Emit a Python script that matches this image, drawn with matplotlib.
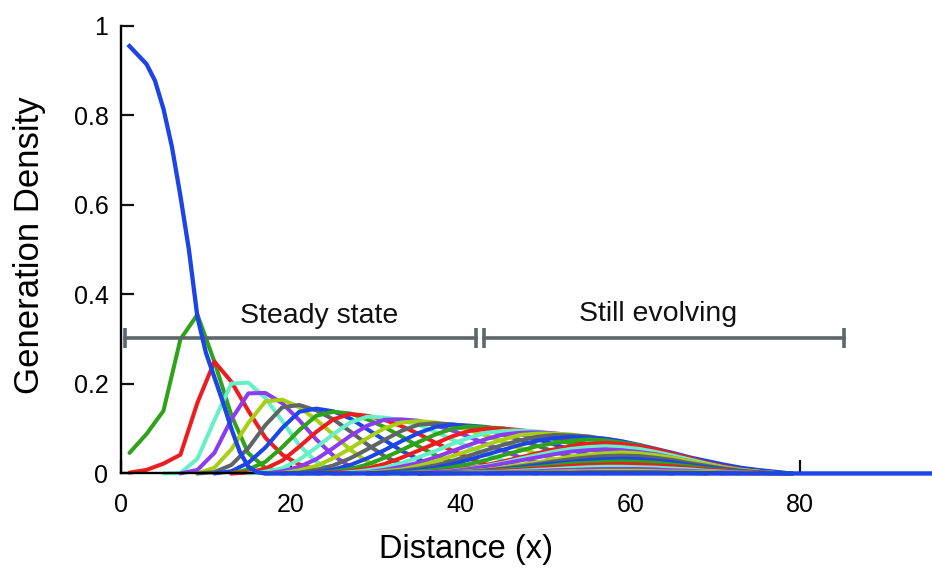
import numpy as np
import matplotlib
matplotlib.use("Agg")
import matplotlib.pyplot as plt

plt.rcParams['font.family'] = ['Liberation Sans', 'DejaVu Sans']

# generation 0: the initial density (blue), sampled more finely near the origin
gen0_x = [1, 3, 4, 5, 6, 7, 8, 9, 10, 11, 12, 13, 14, 15, 16, 17, 96]
gen0_y = [0.955, 0.915, 0.878, 0.815, 0.73, 0.62, 0.50, 0.35, 0.27, 0.215,
          0.16, 0.10, 0.048, 0.015, 0.003, 0, 0]

# later generations: values on a step-2 grid, first value at gen_start[k]
grid_step = 2
gen_start = [1, 1, 5, 7, 9, 9, 11, 13, 13, 15, 17, 17, 19, 21, 21, 23, 25, 25,
             27, 29, 29, 31, 33, 33, 33, 35, 35, 35, 35, 35, 37, 37, 39, 43]
gen_density = [
    [0.046, 0.088, 0.140, 0.300, 0.355, 0.250, 0.130, 0.045, 0.013, 0.003, 0],
    [0.002, 0.008, 0.022, 0.042, 0.158, 0.250, 0.205, 0.140, 0.080, 0.042, 0.020, 0.009, 0.003, 0],
    [0, 0.001, 0.033, 0.119, 0.201, 0.203, 0.169, 0.117, 0.063, 0.026, 0.006, 0],
    [0, 0.008, 0.046, 0.121, 0.179, 0.180, 0.157, 0.119, 0.076, 0.040, 0.015, 0.001, 0],
    [0, 0.013, 0.054, 0.113, 0.161, 0.165, 0.148, 0.120, 0.087, 0.053, 0.027, 0.010, 0],
    [0, 0.003, 0.019, 0.057, 0.108, 0.148, 0.153, 0.141, 0.121, 0.094, 0.065, 0.039, 0.020, 0.007, 0],
    [0, 0.005, 0.024, 0.058, 0.102, 0.138, 0.145, 0.139, 0.123, 0.099, 0.075, 0.051, 0.032, 0.016,
     0.006, 0],
    [0, 0.009, 0.026, 0.059, 0.097, 0.129, 0.138, 0.134, 0.121, 0.104, 0.083, 0.061, 0.041, 0.025,
     0.013, 0.004, 0],
    [0, 0.002, 0.011, 0.029, 0.060, 0.093, 0.121, 0.133, 0.129, 0.120, 0.106, 0.089, 0.069, 0.051,
     0.034, 0.020, 0.011, 0.004, 0],
    [0, 0.004, 0.012, 0.031, 0.058, 0.088, 0.114, 0.127, 0.125, 0.119, 0.109, 0.093, 0.076, 0.059,
     0.043, 0.029, 0.017, 0.009, 0.003, 0],
    [0, 0.005, 0.015, 0.032, 0.057, 0.084, 0.107, 0.120, 0.121, 0.118, 0.108, 0.096, 0.082, 0.066,
     0.051, 0.036, 0.025, 0.015, 0.008, 0.003, 0],
    [0, 0.001, 0.007, 0.017, 0.034, 0.056, 0.079, 0.101, 0.114, 0.117, 0.114, 0.107, 0.097, 0.085,
     0.071, 0.057, 0.044, 0.032, 0.022, 0.013, 0.007, 0.003, 0],
    [0, 0.002, 0.008, 0.018, 0.034, 0.054, 0.075, 0.095, 0.109, 0.112, 0.110, 0.105, 0.097, 0.087,
     0.075, 0.062, 0.049, 0.038, 0.028, 0.018, 0.012, 0.006, 0.002, 0],
    [0, 0.003, 0.009, 0.019, 0.034, 0.052, 0.072, 0.090, 0.104, 0.109, 0.107, 0.104, 0.096, 0.088,
     0.077, 0.065, 0.053, 0.042, 0.031, 0.023, 0.014, 0.009, 0.004, 0.001, 0],
    [0, 0.001, 0.004, 0.010, 0.020, 0.035, 0.052, 0.070, 0.087, 0.100, 0.105, 0.103, 0.101, 0.094,
     0.088, 0.077, 0.067, 0.056, 0.045, 0.035, 0.026, 0.018, 0.012, 0.007, 0.003, 0],
    [0, 0.002, 0.005, 0.011, 0.021, 0.035, 0.051, 0.067, 0.083, 0.095, 0.100, 0.100, 0.097, 0.092,
     0.085, 0.075, 0.066, 0.055, 0.044, 0.035, 0.026, 0.018, 0.012, 0.007, 0.003, 0.001, 0],
    [0, 0.003, 0.007, 0.013, 0.023, 0.036, 0.050, 0.066, 0.080, 0.091, 0.095, 0.096, 0.094, 0.088,
     0.082, 0.074, 0.064, 0.055, 0.044, 0.034, 0.026, 0.018, 0.012, 0.007, 0.003, 0.001, 0],
    [0, 0.001, 0.003, 0.008, 0.015, 0.024, 0.036, 0.050, 0.064, 0.077, 0.087, 0.091, 0.092, 0.090,
     0.085, 0.080, 0.071, 0.062, 0.052, 0.042, 0.033, 0.025, 0.018, 0.012, 0.007, 0.003, 0.001, 0],
    [0, 0.002, 0.005, 0.009, 0.017, 0.027, 0.039, 0.051, 0.064, 0.076, 0.086, 0.089, 0.089, 0.087,
     0.082, 0.076, 0.067, 0.058, 0.048, 0.038, 0.029, 0.022, 0.015, 0.009, 0.005, 0.002, 0],
    [0, 0.003, 0.006, 0.011, 0.018, 0.028, 0.040, 0.052, 0.064, 0.074, 0.082, 0.086, 0.085, 0.083,
     0.077, 0.071, 0.062, 0.053, 0.042, 0.033, 0.025, 0.017, 0.011, 0.007, 0.003, 0],
    [0, 0.001, 0.004, 0.007, 0.013, 0.021, 0.031, 0.042, 0.053, 0.064, 0.073, 0.079, 0.082, 0.080,
     0.078, 0.072, 0.064, 0.055, 0.046, 0.036, 0.028, 0.020, 0.013, 0.008, 0.004, 0],
    [0, 0.002, 0.004, 0.008, 0.014, 0.021, 0.030, 0.041, 0.051, 0.061, 0.068, 0.073, 0.076, 0.074,
     0.069, 0.063, 0.053, 0.043, 0.033, 0.023, 0.015, 0.009, 0.004, 0.001, 0],
    [0, 0.002, 0.004, 0.007, 0.012, 0.019, 0.027, 0.036, 0.045, 0.054, 0.061, 0.066, 0.068, 0.066,
     0.061, 0.054, 0.044, 0.034, 0.024, 0.016, 0.009, 0.004, 0.001, 0],
    [0, 0.002, 0.003, 0.006, 0.011, 0.017, 0.024, 0.033, 0.041, 0.049, 0.055, 0.059, 0.061, 0.059,
     0.055, 0.048, 0.040, 0.031, 0.022, 0.014, 0.008, 0.004, 0.001, 0],
    [0, 0.001, 0.003, 0.005, 0.010, 0.015, 0.022, 0.029, 0.036, 0.043, 0.049, 0.052, 0.054, 0.052,
     0.048, 0.043, 0.035, 0.027, 0.019, 0.013, 0.007, 0.003, 0.001, 0],
    [0, 0.001, 0.003, 0.005, 0.008, 0.013, 0.019, 0.025, 0.031, 0.038, 0.042, 0.045, 0.047, 0.045,
     0.041, 0.035, 0.027, 0.020, 0.013, 0.007, 0.004, 0.001, 0],
    [0, 0.001, 0.002, 0.004, 0.007, 0.011, 0.016, 0.021, 0.027, 0.032, 0.036, 0.039, 0.040, 0.039,
     0.035, 0.030, 0.023, 0.017, 0.011, 0.006, 0.003, 0.001, 0],
    [0, 0.001, 0.002, 0.003, 0.006, 0.009, 0.013, 0.018, 0.022, 0.026, 0.030, 0.032, 0.033, 0.032,
     0.029, 0.025, 0.019, 0.014, 0.009, 0.005, 0.002, 0.001, 0],
    [0, 0.001, 0.001, 0.003, 0.005, 0.008, 0.011, 0.014, 0.018, 0.022, 0.024, 0.026, 0.027, 0.026,
     0.024, 0.020, 0.016, 0.011, 0.007, 0.004, 0.002, 0.001, 0],
    [0, 0.001, 0.001, 0.002, 0.004, 0.006, 0.008, 0.011, 0.014, 0.017, 0.019, 0.020, 0.021, 0.020,
     0.018, 0.016, 0.012, 0.009, 0.006, 0.003, 0.002, 0],
    [0, 0.001, 0.002, 0.003, 0.004, 0.006, 0.008, 0.010, 0.012, 0.014, 0.015, 0.015, 0.014, 0.013,
     0.011, 0.009, 0.006, 0.004, 0.002, 0.001, 0],
    [0, 0.001, 0.001, 0.002, 0.003, 0.004, 0.005, 0.007, 0.008, 0.009, 0.010, 0.010, 0.010, 0.009,
     0.007, 0.006, 0.004, 0.003, 0.002, 0.001, 0],
    [0, 0.001, 0.001, 0.002, 0.002, 0.003, 0.004, 0.005, 0.005, 0.006, 0.006, 0.006, 0.005, 0.004,
     0.004, 0.003, 0.002, 0.001, 0],
    [0, 0.001, 0.001, 0.002, 0.002, 0.002, 0.003, 0.003, 0.003, 0.003, 0.003, 0.002, 0.002, 0.001,
     0.001, 0],
]

# colour cycle used by the generations (gen 0 is blue)
cycle = ['#1d45e6', '#2ea31a', '#ec1c1f', '#66f0c6', '#8b3cef', '#a9cf14', '#5d6566']

bracket_labels = ['Steady state', 'Still evolving']
bracket_spans = [(0.5, 41.8), (42.7, 85.1)]
bracket_y = 0.303
label_pos = [(23.3, 0.352), (63.2, 0.356)]

x_ticks = [0, 20, 40, 60, 80]
y_ticks = [0, 0.2, 0.4, 0.6, 0.8, 1]
y_ticklabels = ['0', '0.2', '0.4', '0.6', '0.8', '1']

fig = plt.figure(figsize=(9.32, 5.85), dpi=100)
ax = fig.add_axes([0.1298, 0.1906, 0.8702, 0.765])

for k, (start, vals) in enumerate(zip(gen_start, gen_density), start=1):
    xs = start + grid_step * np.arange(len(vals))
    ax.plot(xs, vals, color=cycle[k % 7], lw=2.9, clip_on=False,
            solid_joinstyle='round', solid_capstyle='round', zorder=2)

ax.plot(gen0_x, gen0_y, color=cycle[0], lw=3.1, clip_on=False,
        solid_joinstyle='round', zorder=4)

# brackets
bcol = '#5c6869'
for (x0, x1), lab, (tx, ty) in zip(bracket_spans, bracket_labels, label_pos):
    ax.plot([x0, x1], [bracket_y, bracket_y], color=bcol, lw=2.6, zorder=3)
    ax.vlines([x0, x1], bracket_y - 0.022, bracket_y + 0.022, color=bcol, lw=2.6, zorder=3)
    ax.text(tx, ty, lab, ha='center', va='center', fontsize=20.5, color='#111111')

ax.set_xlim(0, 95.5)
ax.set_ylim(0, 1)
ax.spines['top'].set_visible(False)
ax.spines['right'].set_visible(False)
ax.spines['left'].set_linewidth(1.7)
ax.spines['bottom'].set_linewidth(1.7)
ax.spines['left'].set_bounds(0, 1)
ax.set_axisbelow(True)

ax.set_xticks(x_ticks)
ax.set_xticklabels([str(v) for v in x_ticks])
ax.set_yticks(y_ticks)
ax.set_yticklabels(y_ticklabels)
ax.tick_params(direction='in', length=9.5, width=1.6, labelsize=18, color='#111111')
ax.tick_params(axis='y', pad=9)
ax.tick_params(axis='x', pad=14)

ax.set_xlabel('Distance (x)', fontsize=23.5)
ax.set_ylabel('Generation Density', fontsize=25)
ax.xaxis.set_label_coords(0.425, -0.135)
ax.yaxis.set_label_coords(-0.093, 0.51)

fig.savefig('out.png', dpi=100)
